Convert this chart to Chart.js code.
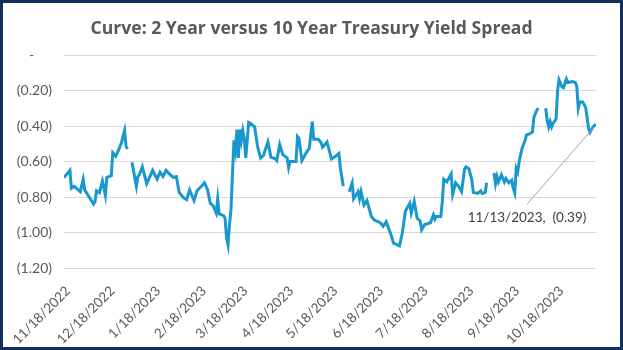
<!DOCTYPE html>
<html>
<head>
<meta charset="utf-8">
<script src="https://cdn.jsdelivr.net/npm/chart.js@4.4.0/dist/chart.umd.min.js"></script>
<style>
  html, body { margin: 0; padding: 0; background: #fff; }
  #frame { width: 623px; height: 350px; box-sizing: border-box; border: 3px solid #11305c; background: #fff; }
  #frame canvas { display: block; }
</style>
</head>
<body>
<div id="frame"><canvas id="viz" width="617" height="344"></canvas></div>
<script>
// Title + axis ticks
const TITLE = 'Curve: 2 Year versus 10 Year Treasury Yield Spread';
const TICK_DATES = ['11/18/2022', '12/18/2022', '1/18/2023', '2/18/2023', '3/18/2023', '4/18/2023',
  '5/18/2023', '6/18/2023', '7/18/2023', '8/18/2023', '9/18/2023', '10/18/2023'];
const Y_TICKS = [0, -0.2, -0.4, -0.6, -0.8, -1.0, -1.2];

// Spread (2Y minus 10Y, %). null = market holiday (gap)
const dates = [
  '11/18/2022', '11/22/2022', '11/23/2022', '11/25/2022', '11/29/2022', '12/1/2022', '12/2/2022', '12/5/2022',
  '12/8/2022', '12/9/2022', '12/10/2022', '12/12/2022', '12/14/2022', '12/16/2022', '12/17/2022', '12/20/2022',
  '12/21/2022', '12/23/2022', '12/25/2022', '12/27/2022', '12/29/2022', '12/30/2022', '12/31/2022', '1/2/2023',
  '1/3/2023', '1/6/2023', '1/7/2023', '1/8/2023', '1/10/2023', '1/13/2023', '1/17/2023', '1/20/2023',
  '1/22/2023', '1/24/2023', '1/26/2023', '1/29/2023', '1/31/2023', '2/2/2023', '2/4/2023', '2/7/2023',
  '2/9/2023', '2/11/2023', '2/14/2023', '2/16/2023', '2/19/2023', '2/21/2023', '2/23/2023', '2/25/2023',
  '2/27/2023', '3/1/2023', '3/2/2023', '3/3/2023', '3/6/2023', '3/7/2023', '3/8/2023', '3/9/2023',
  '3/10/2023', '3/11/2023', '3/13/2023', '3/14/2023', '3/15/2023', '3/16/2023', '3/17/2023', '3/18/2023',
  '3/19/2023', '3/20/2023', '3/21/2023', '3/23/2023', '3/24/2023', '3/27/2023', '3/29/2023', '3/31/2023',
  '4/2/2023', '4/5/2023', '4/7/2023', '4/10/2023', '4/11/2023', '4/13/2023', '4/15/2023', '4/18/2023',
  '4/19/2023', '4/20/2023', '4/24/2023', '4/25/2023', '4/26/2023', '4/28/2023', '5/1/2023', '5/3/2023',
  '5/5/2023', '5/6/2023', '5/9/2023', '5/11/2023', '5/12/2023', '5/14/2023', '5/15/2023', '5/18/2023',
  '5/20/2023', '5/23/2023', '5/24/2023', '5/26/2023', '5/29/2023', '5/30/2023', '6/1/2023', '6/2/2023',
  '6/4/2023', '6/5/2023', '6/6/2023', '6/7/2023', '6/9/2023', '6/11/2023', '6/14/2023', '6/16/2023',
  '6/20/2023', '6/22/2023', '6/24/2023', '6/27/2023', '6/29/2023', '7/3/2023', '7/5/2023', '7/7/2023',
  '7/10/2023', '7/11/2023', '7/13/2023', '7/15/2023', '7/17/2023', '7/18/2023', '7/20/2023', '7/24/2023',
  '7/26/2023', '7/27/2023', '7/28/2023', '7/31/2023', '8/1/2023', '8/2/2023', '8/4/2023', '8/7/2023',
  '8/8/2023', '8/10/2023', '8/12/2023', '8/14/2023', '8/15/2023', '8/16/2023', '8/17/2023', '8/19/2023',
  '8/21/2023', '8/22/2023', '8/25/2023', '8/27/2023', '8/28/2023', '8/30/2023', '8/31/2023', '9/4/2023',
  '9/5/2023', '9/6/2023', '9/7/2023', '9/8/2023', '9/10/2023', '9/12/2023', '9/13/2023', '9/15/2023',
  '9/17/2023', '9/18/2023', '9/19/2023', '9/20/2023', '9/21/2023', '9/22/2023', '9/24/2023', '9/26/2023',
  '9/27/2023', '9/29/2023', '10/1/2023', '10/2/2023', '10/4/2023', '10/5/2023', '10/9/2023', '10/10/2023',
  '10/11/2023', '10/12/2023', '10/13/2023', '10/14/2023', '10/15/2023', '10/17/2023', '10/18/2023', '10/19/2023',
  '10/21/2023', '10/22/2023', '10/24/2023', '10/25/2023', '10/28/2023', '10/30/2023', '10/31/2023', '11/1/2023',
  '11/2/2023', '11/4/2023', '11/6/2023', '11/8/2023', '11/9/2023', '11/11/2023', '11/13/2023'
];
const spread = [
  -0.69, -0.65, -0.75, -0.74, -0.77, -0.70, -0.76, -0.80,
  -0.84, -0.825, -0.765, -0.775, -0.71, -0.79, -0.69, -0.68,
  -0.55, -0.57, -0.535, -0.49, -0.425, -0.515, -0.53, null,
  -0.605, -0.74, -0.685, -0.675, -0.63, -0.725, -0.65, -0.70,
  -0.66, -0.685, -0.65, -0.675, -0.69, -0.685, -0.775, -0.805,
  -0.815, -0.76, -0.82, -0.765, -0.74, -0.72, -0.755, -0.835,
  -0.85, -0.89, -0.81, -0.895, -0.905, -0.92, -1.03, -1.07,
  -0.955, -0.87, -0.48, -0.535, -0.42, -0.58, -0.42, -0.48,
  -0.425, -0.47, -0.58, -0.38, -0.385, -0.405, -0.515, -0.58,
  -0.565, -0.49, -0.575, -0.585, -0.595, -0.505, -0.56, -0.58,
  -0.635, -0.60, -0.60, -0.46, -0.47, -0.595, -0.55, -0.525,
  -0.375, -0.475, -0.475, -0.495, -0.52, -0.50, -0.49, -0.585,
  -0.575, -0.555, -0.635, -0.74, null, -0.77, -0.72, -0.81,
  -0.785, -0.77, -0.81, -0.77, -0.845, -0.82, -0.91, -0.93,
  -0.945, -0.965, -0.94, -1.005, -1.06, -1.075, -1.00, -0.88,
  -0.835, -0.89, -0.825, -0.92, -0.935, -0.985, -0.955, -0.945,
  -0.90, -0.925, -0.91, -0.91, -0.825, -0.70, -0.715, -0.67,
  -0.785, -0.72, -0.74, -0.77, -0.71, -0.645, -0.63, -0.64,
  -0.705, -0.775, -0.78, -0.765, -0.78, -0.775, -0.72, null,
  -0.665, -0.725, -0.685, -0.715, -0.675, -0.715, -0.695, -0.72,
  -0.705, -0.75, -0.775, -0.64, -0.66, -0.60, -0.525, -0.48,
  -0.45, -0.445, -0.435, -0.35, -0.31, -0.30, null, -0.30,
  -0.37, -0.405, -0.375, -0.405, -0.385, -0.36, -0.20, -0.14,
  -0.18, -0.185, -0.135, -0.155, -0.15, -0.155, -0.175, -0.30,
  -0.265, -0.265, -0.295, -0.415, -0.435, -0.405, -0.39
];

// Helpers
const FONT = "Lato, 'Open Sans', sans-serif";
const dayNum = (s) => { const [m, d, y] = s.split('/').map(Number); return Date.UTC(y, m - 1, d) / 86400000; };
const day0 = dayNum(dates[0]);
const xOf = (s) => dayNum(s) - day0;
const fmtSpread = (v) => v === 0 ? '-     ' : '(' + Math.abs(v).toFixed(2) + ')';

const points = dates.map((d, i) => ({ x: xOf(d), y: spread[i] }));
const last = dates.length - 1;
const LAST_LABEL = dates[last] + ',  ' + fmtSpread(spread[last]);

// Title centred on the whole canvas (the built-in one is squeezed by the right padding)
const chartTitle = {
  id: 'chartTitle',
  afterDraw(chart) {
    const ctx = chart.ctx;
    ctx.save();
    ctx.font = "bold 17.6px 'Open Sans', sans-serif";
    ctx.fillStyle = '#595959';
    ctx.textAlign = 'center';
    ctx.textBaseline = 'alphabetic';
    ctx.fillText(TITLE, chart.width / 2, 30.5);
    ctx.restore();
  }
};

// Data label for the last point, with leader line
const lastPointLabel = {
  id: 'lastPointLabel',
  afterDatasetsDraw(chart) {
    const meta = chart.getDatasetMeta(0);
    const pt = meta.data[meta.data.length - 1];
    const ctx = chart.ctx;
    const tx = pt.x - 69, ty = pt.y + 93;
    ctx.save();
    ctx.strokeStyle = '#a6a6a6';
    ctx.lineWidth = 1;
    ctx.beginPath();
    ctx.moveTo(pt.x - 2, pt.y + 3);
    ctx.lineTo(tx, ty - 13);
    ctx.stroke();
    ctx.font = '13.5px ' + FONT;
    ctx.fillStyle = '#404040';
    ctx.textAlign = 'center';
    ctx.textBaseline = 'middle';
    ctx.fillText(LAST_LABEL, tx, ty);
    ctx.restore();
  }
};

new Chart(document.getElementById('viz'), {
  type: 'line',
  data: {
    datasets: [{
      data: points,
      borderColor: '#1898cf',
      borderWidth: 3,
      pointRadius: 0,
      tension: 0,
      spanGaps: false
    }]
  },
  options: {
    responsive: false,
    animation: false,
    layout: { padding: { left: 0, right: 24, top: 52, bottom: 0 } },
    plugins: {
      legend: { display: false },
      tooltip: { enabled: false },
      title: { display: false }
    },
    scales: {
      x: {
        type: 'linear',
        min: 0,
        max: xOf(dates[last]),
        afterBuildTicks: (scale) => { scale.ticks = TICK_DATES.map(d => ({ value: xOf(d) })); },
        afterFit: (scale) => { scale.height = 79; },
        grid: { display: false },
        border: { display: false },
        ticks: {
          autoSkip: false,
          minRotation: 45,
          maxRotation: 45,
          padding: 7,
          labelOffset: 4,
          color: '#595959',
          font: { family: FONT, size: 13.5 },
          callback: (v, i) => TICK_DATES[i]
        }
      },
      y: {
        min: -1.2,
        max: 0,
        afterBuildTicks: (scale) => { scale.ticks = Y_TICKS.map(v => ({ value: v })); },
        afterFit: (scale) => { scale.width = 61; },
        grid: { color: '#d9d9d9', lineWidth: 1, drawTicks: false },
        border: { display: false },
        ticks: {
          padding: 12,
          color: '#595959',
          font: { family: FONT, size: 14 },
          callback: (v) => fmtSpread(v)
        }
      }
    }
  },
  plugins: [chartTitle, lastPointLabel]
});
</script>
</body>
</html>
